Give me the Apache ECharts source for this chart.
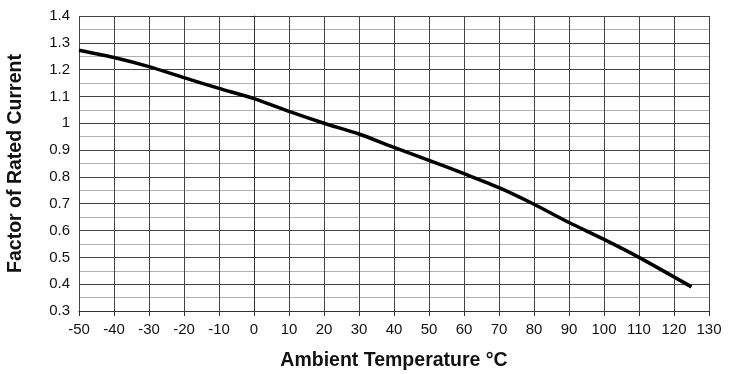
<!DOCTYPE html>
<html>
<head>
<meta charset="utf-8">
<script src="https://cdn.jsdelivr.net/npm/echarts@6/dist/echarts.min.js"></script>
<style>html,body{margin:0;padding:0;background:#fff;}#c{width:730px;height:374px;}</style>
</head>
<body>
<div id="c"></div>
<script>
var temperatures = [-50, -40, -30, -20, -10, 0, 10, 20, 30, 40, 50, 60, 70, 80, 90, 100, 110, 125];
var factors = [1.272, 1.245, 1.211, 1.170, 1.130, 1.092, 1.044, 1.000, 0.960, 0.910, 0.862, 0.812, 0.760, 0.698, 0.630, 0.567, 0.500, 0.390];
var xTitle = 'Ambient Temperature °C';
var yTitle = 'Factor of Rated Current';

var pts = temperatures.map(function (t, i) { return [t, factors[i]]; });
var chart = echarts.init(document.getElementById('c'));
var font = 'Liberation Sans, Arial, sans-serif';
chart.setOption({
  animation: false,
  grid: { left: 79, right: 21, top: 16, bottom: 63, containLabel: false, outerBoundsMode: 'none' },
  xAxis: {
    type: 'value', min: -50, max: 130, interval: 10,
    name: xTitle, nameLocation: 'middle', nameGap: 40,
    nameTextStyle: { fontFamily: font, fontSize: 19.5, fontWeight: 'bold', color: '#111' },
    axisLine: { show: true, onZero: false, lineStyle: { color: '#333', width: 1 } },
    axisTick: { show: true, length: 5, lineStyle: { color: '#333' } },
    axisLabel: { fontFamily: font, fontSize: 15, color: '#111', margin: 11 },
    splitLine: { show: true, lineStyle: { color: '#444', width: 1 } }
  },
  yAxis: {
    type: 'value', min: 0.3, max: 1.4, interval: 0.1,
    name: yTitle, nameLocation: 'middle', nameGap: 53, nameRotate: 90,
    nameTextStyle: { fontFamily: font, fontSize: 19.5, fontWeight: 'bold', color: '#111' },
    axisLine: { show: true, lineStyle: { color: '#333', width: 1 } },
    axisTick: { show: true, length: 4, lineStyle: { color: '#333' } },
    axisLabel: { fontFamily: font, fontSize: 15, color: '#111', margin: 9,
      formatter: function (v) { return String(Math.round(v * 10) / 10); } },
    splitLine: { show: true, lineStyle: { color: '#444', width: 1 } },
    minorTick: { show: false, splitNumber: 2 },
    minorSplitLine: { show: true, lineStyle: { color: '#b0b0b0', width: 1 } }
  },
  series: [{
    type: 'line', data: pts, showSymbol: false, smooth: 0.25,
    lineStyle: { color: '#000', width: 3.5 }
  }]
});
</script>
</body>
</html>
